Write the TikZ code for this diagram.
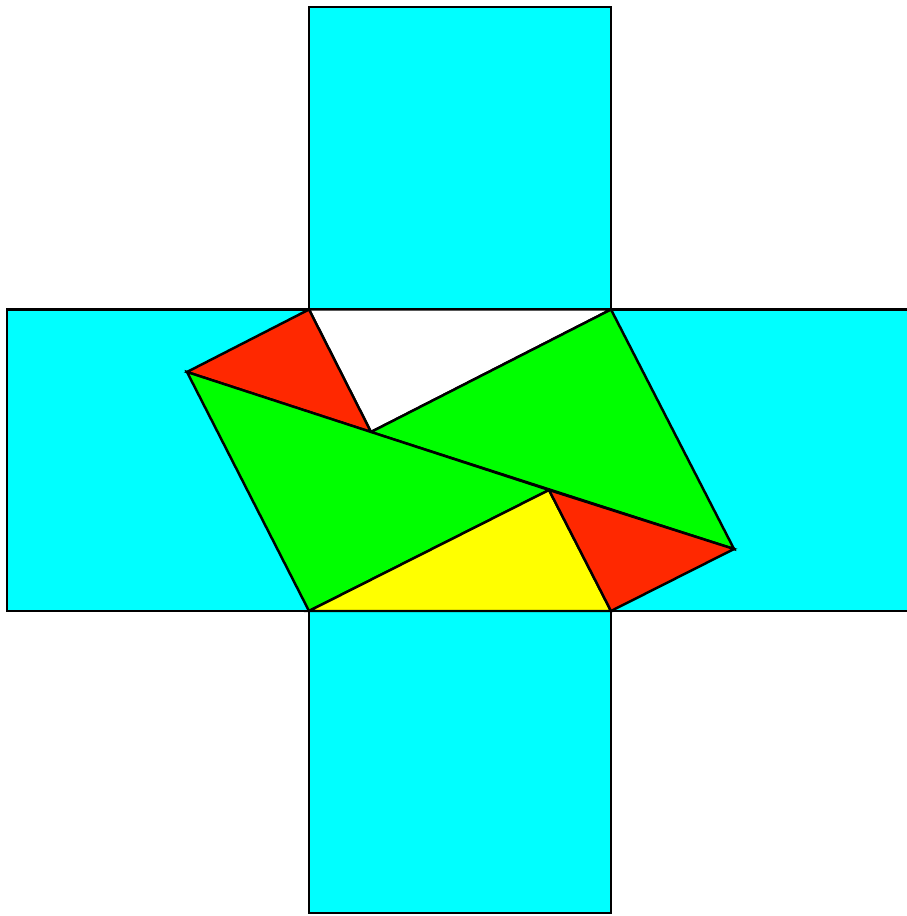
\documentclass[tikz,border=0pt]{standalone}
\begin{document}
\begin{tikzpicture}[x=0.01cm,y=-0.01cm,line join=miter,
  piece/.style={draw=black,line width=0.7pt}]
\definecolor{sq}{RGB}{0,255,255}
\definecolor{rd}{RGB}{255,40,0}
\definecolor{gr}{RGB}{0,255,0}
\definecolor{yl}{RGB}{255,255,0}
\useasboundingbox (0,0) rectangle (907,916);
\clip (0,0) rectangle (907,916);
% corners of the central square
\coordinate (A) at (309,309.5);
\coordinate (B) at (611,309.5);
\coordinate (C) at (611,611);
\coordinate (D) at (309,611);
\coordinate (P) at (187,372);
\coordinate (Q) at (371,432);
\coordinate (R) at (549,490);
\coordinate (S) at (734,549);
% outer squares
\filldraw[piece,fill=sq] (309,7) rectangle (B);
\filldraw[piece,fill=sq] (D) rectangle (611,913);
\filldraw[piece,fill=sq] (7,309.5) rectangle (D);
\filldraw[piece,fill=sq] (B) rectangle (913,611);
% dissection
\filldraw[piece,fill=white] (A) -- (B) -- (Q) -- cycle;
\filldraw[piece,fill=rd] (A) -- (P) -- (Q) -- cycle;
\filldraw[piece,fill=gr] (Q) -- (B) -- (S) -- cycle;
\filldraw[piece,fill=gr] (P) -- (D) -- (R) -- cycle;
\filldraw[piece,fill=yl] (D) -- (C) -- (R) -- cycle;
\filldraw[piece,fill=rd] (R) -- (S) -- (C) -- cycle;
\end{tikzpicture}
\end{document}
